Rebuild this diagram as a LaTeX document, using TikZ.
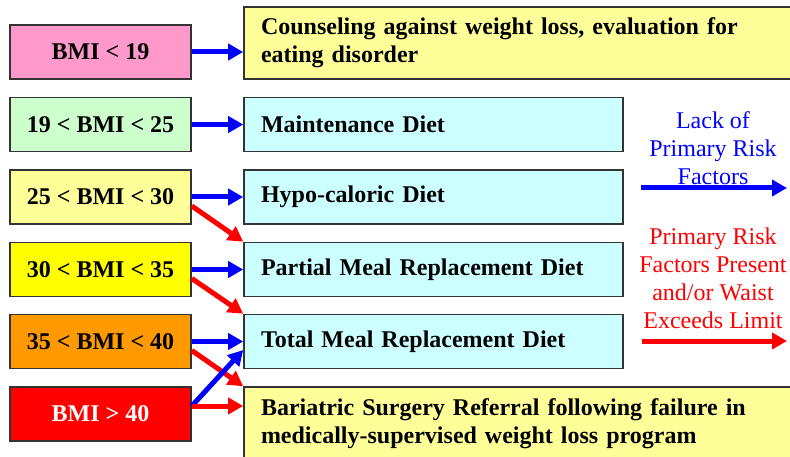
\documentclass[tikz,border=0pt]{standalone}
\usepackage{fontspec}
\setmainfont{Liberation Serif}
\usetikzlibrary{arrows.meta,calc}
\definecolor{cpink}{HTML}{FF99CC}
\definecolor{cgreen}{HTML}{CCFFCC}
\definecolor{clyellow}{HTML}{FFFF99}
\definecolor{cyellow}{HTML}{FFFF00}
\definecolor{corange}{HTML}{FF9900}
\definecolor{cred}{HTML}{FF0000}
\definecolor{ccyan}{HTML}{CCFFFF}
\definecolor{cblue}{HTML}{0000FF}
\begin{document}
\begin{tikzpicture}[x=1pt,y=-1pt,
  lbox/.style={draw=black!80, line width=1.6pt, minimum width=181pt, minimum height=54pt,
    inner sep=0pt, font=\fontsize{24}{28}\selectfont\bfseries},
  rbox/.style={draw=black!80, line width=1.6pt, minimum height=54pt, inner xsep=17pt,
    inner ysep=0pt, text width=345pt, align=left, fill=ccyan,
    font=\fontsize{24}{28}\selectfont\bfseries},
  widebox/.style={rbox, text width=522pt, fill=clyellow},
  barrow/.style={draw=cblue, line width=5pt, -{Triangle[length=15pt,width=16pt]}},
  rarrow/.style={draw=cred, line width=5pt, -{Triangle[length=15pt,width=16pt]}},
  legend/.style={font=\fontsize{24}{28}\selectfont, align=center}
]
\useasboundingbox (0,0) rectangle (790,457);
\clip (0,0) rectangle (790,457);

% left boxes
\node[lbox, fill=cpink] (b1) at (100.5,52) {BMI < 19};
\node[lbox, fill=cgreen] (b2) at (100.5,124.5) {19 < BMI < 25};
\node[lbox, fill=clyellow] (b3) at (100.5,197) {25 < BMI < 30};
\node[lbox, fill=cyellow] (b4) at (100.5,269.5) {30 < BMI < 35};
\node[lbox, fill=corange] (b5) at (100.5,341.5) {35 < BMI < 40};
\node[lbox, fill=cred, text=white] (b6) at (100.5,414) {BMI > 40};

% right boxes
\node[widebox, minimum height=72pt] (r1) at (522,43) {Counseling against weight loss, evaluation for\\eating disorder};
\node[rbox] (r2) at (433.5,124.5) {Maintenance Diet};
\node[rbox] (r3) at (433.5,197) {Hypo-caloric Diet};
\node[rbox] (r4) at (433.5,269.5) {Partial Meal Replacement Diet};
\node[rbox] (r5) at (433.5,341.5) {Total Meal Replacement Diet};
\node[widebox, minimum height=74pt] (r6) at (522,424) {Bariatric Surgery Referral following failure in\\medically-supervised weight loss program};

% connectors
\draw[barrow] (b1.east) -- (b1.east -| r1.west);
\draw[barrow] (b2.east) -- (b2.east -| r2.west);
\draw[barrow] (b3.east) -- (b3.east -| r3.west);
\draw[barrow] (b4.east) -- (b4.east -| r4.west);
\draw[barrow] (b5.east) -- (b5.east -| r5.west);
\draw[rarrow] ($(b3.east)+(0,9)$) -- (r4.north west);
\draw[rarrow] ($(b4.east)+(0,9)$) -- (r5.north west);
\draw[rarrow] ($(b5.east)+(0,9)$) -- (r6.north west);
\draw[barrow] ($(b6.east)+(0,-8)$) -- ($(r5.west)+(0,8.5)$);
\draw[rarrow] ($(b6.east)+(0,-8)$) -- ($(b6.east -| r6.west)+(0,-8)$);

% legend
\node[legend, text=cblue] (t1) at (713,148) {Lack of\\Primary Risk\\Factors};
\coordinate (a1s) at (641,188);
\coordinate (a1e) at (787,188);
\draw[barrow] (a1s) -- (a1e);
\node[legend, text=cred] (t2) at (713,278.5) {Primary Risk\\Factors Present\\and/or Waist\\Exceeds Limit};
\coordinate (a2s) at (642,341);
\coordinate (a2e) at (787,341);
\draw[rarrow] (a2s) -- (a2e);
\end{tikzpicture}
\end{document}
